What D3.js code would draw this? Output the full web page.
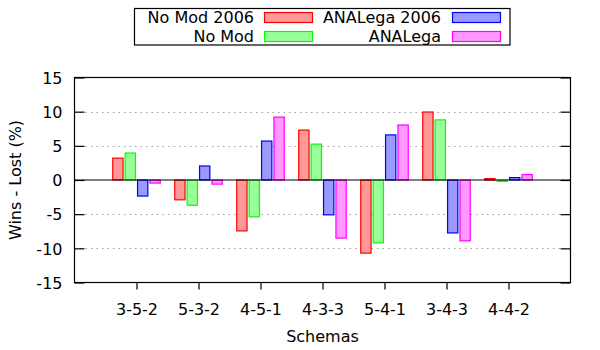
<!DOCTYPE html>
<html><head><meta charset="utf-8">
<script src="https://cdn.jsdelivr.net/npm/d3@7"></script>
<style>body{margin:0;background:#fff;} text{font-family:"DejaVu Sans",sans-serif;}</style>
</head><body><svg id="c" width="600" height="350"></svg>
<script>
const categories = ["3-5-2","5-3-2","4-5-1","4-3-3","5-4-1","3-4-3","4-4-2"];
const seriesNames = ["No Mod 2006","No Mod","ANALega 2006","ANALega"];
const noMod2006 = [3.2, -2.9, -7.45, 7.3, -10.7, 9.95, 0.2];
const noMod = [3.95, -3.7, -5.4, 5.25, -9.2, 8.8, -0.2];
const analega2006 = [-2.35, 2.05, 5.7, -5.1, 6.6, -7.75, 0.35];
const analega = [-0.45, -0.6, 9.2, -8.5, 8.05, -8.9, 0.8];
const yTicks = [-15,-10,-5,0,5,10,15];
const gridTicks = [-10,-5,5,10];

const series = [noMod2006, noMod, analega2006, analega];
const strokes = ["#ff0000","#00ff00","#0000ff","#ff00ff"];
const fills = ["#ff9999","#99ff99","#9999ff","#ff99ff"];
const offsets = [-0.3,-0.1,0.1,0.3];
const bw = 0.166;

const svg = d3.select("#c");
const L=74.5, R=570.5, T=77.5, B=282.5;
const x = d3.scaleLinear().domain([-1,7]).range([L,R]);
const y = d3.scaleLinear().domain([-15,15]).range([B,T]);

// grid
svg.append("g").selectAll("line").data(gridTicks).join("line")
  .attr("x1",L).attr("x2",R).attr("y1",d=>Math.round(y(d))+0.5).attr("y2",d=>Math.round(y(d))+0.5)
  .attr("stroke","#a0a0a0").attr("stroke-width",1).attr("stroke-dasharray","1.5,4");

// bars
series.forEach((s,si)=>{
  svg.append("g").selectAll("rect").data(s).join("rect")
    .attr("x",(d,i)=>x(i+offsets[si]-bw/2))
    .attr("width",x(bw)-x(0))
    .attr("y",d=>y(Math.max(d,0)))
    .attr("height",d=>Math.abs(y(d)-y(0)))
    .attr("fill",fills[si]).attr("stroke",strokes[si]).attr("stroke-width",1.2);
});

// zero line
svg.append("line").attr("x1",L).attr("x2",R).attr("y1",y(0)).attr("y2",y(0))
  .attr("stroke","#000").attr("stroke-width",1.2);

// axes
const yl = svg.append("g").attr("transform",`translate(${L},0)`)
  .call(d3.axisLeft(y).tickValues(yTicks).tickFormat(d=>String(d)).tickSizeInner(-10).tickSizeOuter(0).tickPadding(12));
const yr = svg.append("g").attr("transform",`translate(${R},0)`)
  .call(d3.axisRight(y).tickValues(yTicks).tickSizeInner(-10).tickSizeOuter(0).tickFormat(""));
const xa = svg.append("g").attr("transform",`translate(0,${B})`)
  .call(d3.axisBottom(x).tickValues(d3.range(categories.length)).tickFormat(i=>categories[i]).tickSizeInner(7).tickSizeOuter(0).tickPadding(14));
[yl,yr,xa].forEach(g=>{
  g.select(".domain").remove();
  g.selectAll("line").attr("stroke","#000").attr("stroke-width",1.2);
  g.selectAll("text").attr("font-family","DejaVu Sans").attr("font-size",16).attr("fill","#000");
});
yl.selectAll("text").attr("dy","0.36em");

// frame
svg.append("rect").attr("x",L).attr("y",T).attr("width",R-L).attr("height",B-T)
  .attr("fill","none").attr("stroke","#000").attr("stroke-width",1.2);

// axis titles
svg.append("text").attr("x",(L+R)/2).attr("y",342).attr("text-anchor","middle")
  .attr("font-size",16).text("Schemas");
svg.append("text").attr("transform",`translate(21,180) rotate(-90)`).attr("text-anchor","middle")
  .attr("font-size",16).text("Wins - Lost (%)");

// legend
svg.append("rect").attr("x",134.5).attr("y",8.5).attr("width",375.5).attr("height",36.5)
  .attr("fill","#fff").attr("stroke","#000").attr("stroke-width",1.2);
const legPos = [[254,264.5,0],[254,264.5,1],[441,452.5,0],[441,452.5,1]];
seriesNames.forEach((n,i)=>{
  const [tx,sx,row] = legPos[i];
  const cy = 17.5 + row*19;
  svg.append("text").attr("x",tx).attr("y",cy+5.5).attr("text-anchor","end").attr("font-size",16).text(n);
  svg.append("rect").attr("x",sx).attr("y",cy-5).attr("width",48).attr("height",10)
    .attr("fill",fills[i]).attr("stroke",strokes[i]).attr("stroke-width",1.2);
});
</script></body></html>
